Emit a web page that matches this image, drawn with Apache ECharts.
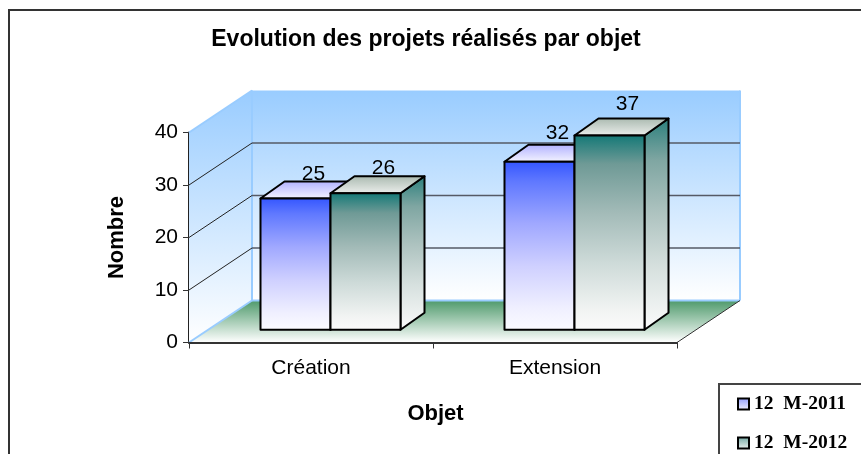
<!DOCTYPE html>
<html>
<head>
<meta charset="utf-8">
<style>html,body{margin:0;padding:0;background:#fff}#chart{width:861px;height:454px}</style>
<script src="https://cdn.jsdelivr.net/npm/echarts@6/dist/echarts.min.js"></script>
</head>
<body>
<div id="chart"></div>
<script>
const categories = ["Création", "Extension"];
const seriesNames = ["12  M-2011", "12  M-2012"];
const values2011 = [25, 32];
const values2012 = [26, 37];
const yTicks = [0, 10, 20, 30, 40];

// faux 3D : decalage du fond et profondeur des barres
const wallDx = 63, wallDy = 42;
const barShiftX = 19.5, barShiftY = 12.7, barDepthX = 24, barDepthY = 17;
const barRatio = 70 / 244;
const sans = "'Liberation Sans', Arial, sans-serif";
const serif = "'Liberation Serif', 'Times New Roman', serif";

function grad(stops) {
  return new echarts.graphic.LinearGradient(0, 0, 0, 1, stops.map(function (s) {
    return { offset: s[0], color: s[1] };
  }));
}

function poly(points, fill, stroke, width) {
  return {
    type: "polygon",
    shape: { points: points },
    style: { fill: fill, stroke: stroke || null, lineWidth: width || 0, lineJoin: "round" }
  };
}

function line(x1, y1, x2, y2, color, width) {
  return {
    type: "line",
    shape: { x1: x1, y1: y1, x2: x2, y2: y2 },
    style: { stroke: color, lineWidth: width }
  };
}

function renderWalls(params, api) {
  const c = params.coordSys;
  const left = c.x, right = c.x + c.width, top = c.y, bottom = c.y + c.height;
  const edge = "#99ccff";
  const wall = grad([[0, "#99ccff"], [1, "#ffffff"]]);
  return {
    type: "group",
    children: [
      poly([[left + wallDx, top - wallDy], [right + wallDx, top - wallDy], [right + wallDx, bottom - wallDy], [left + wallDx, bottom - wallDy]], wall),
      poly([[left, top], [left + wallDx, top - wallDy], [left + wallDx, bottom - wallDy], [left, bottom]], wall),
      poly([[left + wallDx, bottom - wallDy], [right + wallDx, bottom - wallDy], [right, bottom], [left, bottom]], grad([[0, "#4f9a6c"], [1, "#ffffff"]])),
      line(left, top, left + wallDx, top - wallDy, edge, 2),
      line(left + wallDx, top - wallDy, left + wallDx, bottom - wallDy, edge, 2),
      line(left, bottom, left + wallDx, bottom - wallDy, edge, 2),
      line(right + wallDx, top - wallDy, right + wallDx, bottom - wallDy, edge, 2),
      line(left + wallDx, bottom - wallDy, right + wallDx, bottom - wallDy, edge, 2),
      line(right, bottom, right + wallDx, bottom - wallDy, "#333333", 1)
    ]
  };
}

function renderGridLine(params, api) {
  const c = params.coordSys;
  const v = api.value(0);
  if (v === 0 || v === 40) return { type: "group", children: [] };
  const y = api.coord([0, v])[1];
  return {
    type: "group",
    children: [
      line(c.x, y, c.x + wallDx, y - wallDy, "#222222", 1),
      line(c.x + wallDx, y - wallDy, c.x + c.width + wallDx, y - wallDy, "#555a66", 1.5)
    ]
  };
}

function renderBar(colors, first) {
  return function (params, api) {
    const v = api.value(1);
    const pos = api.coord([api.value(0), v]);
    const base = api.coord([api.value(0), 0]);
    const w = api.size([1, 0])[0] * barRatio;
    const x0 = pos[0] + barShiftX - (first ? w : 0);
    const x1 = x0 + w;
    const yTop = pos[1] - barShiftY, yBase = base[1] - barShiftY;
    const dx = barDepthX, dy = barDepthY;
    const s = "#000000";
    return {
      type: "group",
      children: [
        poly([[x1, yTop], [x1 + dx, yTop - dy], [x1 + dx, yBase - dy], [x1, yBase]], grad(colors.side), s, 2),
        poly([[x0, yTop], [x0 + dx, yTop - dy], [x1 + dx, yTop - dy], [x1, yTop]], grad(colors.top), s, 2),
        poly([[x0, yTop], [x1, yTop], [x1, yBase], [x0, yBase]], grad(colors.front), s, 2),
        {
          type: "text",
          style: {
            x: (x0 + x1) / 2 + 18,
            y: yTop - 24.5 - 0.58 * (v - 25),
            text: String(v),
            font: "21px " + sans,
            fill: "#000000",
            align: "center",
            verticalAlign: "middle"
          },
          z2: 10
        }
      ]
    };
  };
}

const blue = {
  front: [[0, "#3355ff"], [0.12, "#5f78ff"], [0.37, "#a0a8ff"], [0.62, "#cfd0ff"], [0.87, "#f0f0ff"], [1, "#fbfbff"]],
  top: [[0, "#b0b0ff"], [1, "#f6f6ff"]],
  side: [[0, "#3355ff"], [1, "#fbfbff"]]
};
const green = {
  front: [[0, "#127876"], [0.15, "#6f9a96"], [0.4, "#a3bbb8"], [0.65, "#cddad8"], [0.9, "#f2f4f3"], [1, "#fbfbfb"]],
  top: [[0, "#a8b8ae"], [1, "#eef0ee"]],
  side: [[0, "#2a7f7c"], [0.2, "#7fa6a2"], [0.45, "#aec3c0"], [0.7, "#d6e0de"], [1, "#fbfbfb"]]
};

const chart = echarts.init(document.getElementById("chart"), null, { renderer: "canvas" });
chart.setOption({
  animation: false,
  title: {
    text: "Evolution des projets réalisés par objet",
    left: 421,
    textAlign: "center",
    top: 23,
    textStyle: { fontFamily: sans, fontWeight: "bold", fontSize: 23, color: "#000" }
  },
  legend: {
    data: seriesNames,
    orient: "vertical",
    left: 732,
    top: 389,
    height: 120,
    itemGap: 19,
    itemWidth: 11,
    itemHeight: 11,
    icon: "rect",
    selectedMode: false,
    textStyle: { fontFamily: serif, fontWeight: "bold", fontSize: 19.5, color: "#000" },
    itemStyle: { borderColor: "#000", borderWidth: 2 }
  },
  grid: { left: 189, width: 488, top: 132.5, height: 210 },
  xAxis: {
    type: "category",
    data: categories,
    name: "Objet",
    nameLocation: "middle",
    nameGap: 60,
    nameTextStyle: { fontFamily: sans, fontWeight: "bold", fontSize: 22, color: "#000", padding: [0, 0, 0, 5] },
    axisLine: { lineStyle: { color: "#333", width: 2 } },
    axisTick: { show: true, alignWithLabel: false, length: 6, lineStyle: { color: "#333" } },
    axisLabel: { fontFamily: sans, fontSize: 21, color: "#000", margin: 15 },
    z: 3
  },
  yAxis: {
    type: "value",
    min: 0,
    max: 40,
    interval: 10,
    name: "Nombre",
    nameLocation: "middle",
    nameGap: 61,
    nameTextStyle: { fontFamily: sans, fontWeight: "bold", fontSize: 22, color: "#000" },
    axisLine: { show: true, lineStyle: { color: "#222", width: 2 } },
    axisTick: { show: true, length: 6, lineStyle: { color: "#333" } },
    axisLabel: { fontFamily: sans, fontSize: 21, color: "#000", margin: 11 },
    splitLine: { show: false }
  },
  series: [
    { type: "custom", name: "murs", silent: true, z: 1, renderItem: renderWalls, data: [[0]] },
    { type: "custom", name: "grille", silent: true, z: 1, renderItem: renderGridLine, data: yTicks.map(v => [v]) },
    {
      type: "custom",
      name: seriesNames[0],
      z: 2,
      renderItem: renderBar(blue, true),
      itemStyle: { color: grad([[0, "#8f9bff"], [1, "#f4f4ff"]]) },
      encode: { x: 0, y: 1 },
      data: values2011.map((v, i) => [i, v])
    },
    {
      type: "custom",
      name: seriesNames[1],
      z: 3,
      renderItem: renderBar(green, false),
      itemStyle: { color: grad([[0, "#6fa5a0"], [1, "#f0f4f2"]]) },
      encode: { x: 0, y: 1 },
      data: values2012.map((v, i) => [i, v])
    }
  ],
  graphic: [
    { type: "rect", left: 8, top: 9, z: -1, shape: { width: 880, height: 480 }, style: { fill: "#fff", stroke: "#333", lineWidth: 2 } },
    { type: "rect", left: 718, top: 383, z: 0, shape: { width: 180, height: 100 }, style: { fill: "#fff", stroke: "#444", lineWidth: 2 } }
  ]
});
window.addEventListener("resize", function () { chart.resize(); });
</script>
</body>
</html>
